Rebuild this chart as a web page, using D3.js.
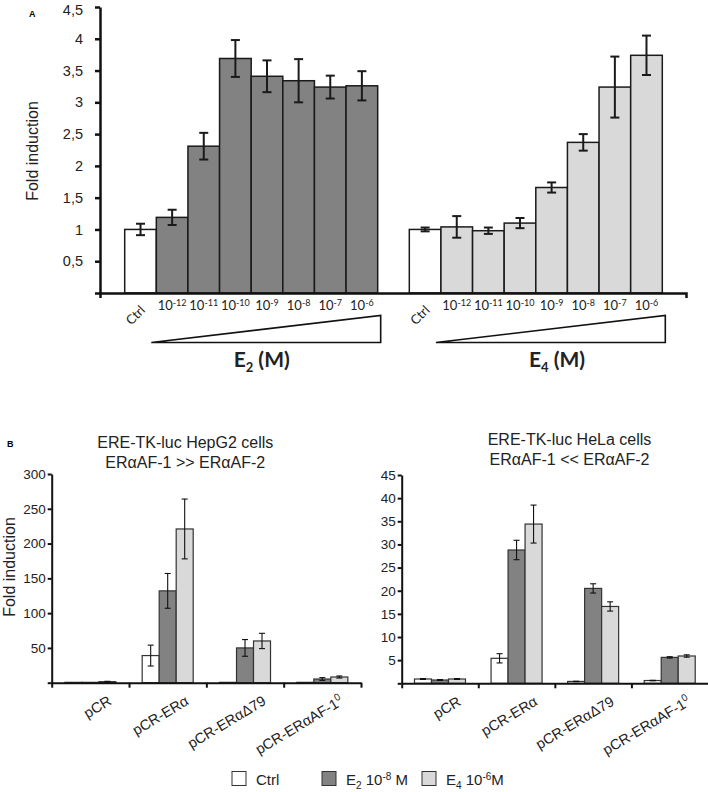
<!DOCTYPE html>
<html><head><meta charset="utf-8">
<script src="https://cdn.jsdelivr.net/npm/d3@7"></script>
<style>body{margin:0;background:#fff} svg{display:block}</style>
</head><body>
<svg id="chart" width="708" height="792"></svg>
<script>
// ---------- Panel A data ----------
const aExponents = ["-12","-11","-10","-9","-8","-7","-6"];
const aE2Means  = [1.00, 1.19, 2.31, 3.69, 3.41, 3.34, 3.24, 3.26];
const aE2Errors = [0.09, 0.12, 0.21, 0.29, 0.25, 0.34, 0.18, 0.23];
const aE4Means  = [1.00, 1.04, 0.98, 1.10, 1.66, 2.37, 3.24, 3.74];
const aE4Errors = [0.03, 0.17, 0.05, 0.08, 0.08, 0.13, 0.48, 0.31];
const aYTicks = [0, 0.5, 1, 1.5, 2, 2.5, 3, 3.5, 4, 4.5];

// ---------- Panel B data ----------
const bCategories = ["pCR", "pCR-ERα", "pCR-ERαΔ79", "pCR-ERαAF-1"];
const bCategorySup = ["", "", "", "0"];
const bSeries = ["ctrl", "e2", "e4"];
const hepCtrl = [0.5, 39, 0.5, 0.5];   const hepCtrlErr = [0, 15, 0, 0];
const hepE2   = [0.5, 132, 50, 5.3];   const hepE2Err   = [0, 25, 12, 2];
const hepE4   = [1.5, 221, 60, 8.2];   const hepE4Err   = [0.5, 43, 11, 1.5];
const helaCtrl = [0.93, 5.4, 0.4, 0.6]; const helaCtrlErr = [0.1, 1.0, 0.05, 0.05];
const helaE2   = [0.71, 28.8, 20.5, 5.6]; const helaE2Err = [0.1, 2.1, 1.0, 0.15];
const helaE4   = [0.93, 34.4, 16.6, 5.9]; const helaE4Err = [0.1, 4.1, 1.0, 0.25];
const hepTicks = [0, 50, 100, 150, 200, 250, 300];
const helaTicks = [0, 5, 10, 15, 20, 25, 30, 35, 40, 45];

const colors = {ctrl: "#ffffff", e2: "#828282", e4: "#d9d9d9"};
const ARIAL = "'Liberation Sans', Arial, sans-serif";
const CAL = "Lato, 'Open Sans', sans-serif";

const svg = d3.select("#chart");
const commaFmt = d3.formatLocale({decimal: ",", thousands: ".", grouping: [3], currency: ["", ""]}).format("~g");

// ================= PANEL A =================
const gA = svg.append("g");
const yA = d3.scaleLinear().domain([0, 4.5]).range([293, 7]);
const slots = [];
aE2Means.forEach((d, i) => slots.push("e2_" + i));
slots.push("gap");
aE4Means.forEach((d, i) => slots.push("e4_" + i));
const xA = d3.scaleBand().domain(slots).range([124.7, 662.3]).padding(0);

const aData = [];
aE2Means.forEach((v, i) => aData.push({key: "e2_" + i, v, e: aE2Errors[i], fill: i === 0 ? colors.ctrl : colors.e2}));
aE4Means.forEach((v, i) => aData.push({key: "e4_" + i, v, e: aE4Errors[i], fill: i === 0 ? colors.ctrl : colors.e4}));

gA.selectAll("rect.bar").data(aData).join("rect")
  .attr("x", d => xA(d.key)).attr("width", xA.bandwidth())
  .attr("y", d => yA(d.v)).attr("height", d => yA(0) - yA(d.v))
  .attr("fill", d => d.fill).attr("stroke", "#1a1a1a").attr("stroke-width", 1.5);

const errA = gA.selectAll("g.err").data(aData).join("g")
  .attr("transform", d => `translate(${xA(d.key) + xA.bandwidth() / 2},0)`)
  .attr("stroke", "#1a1a1a").attr("stroke-width", 2);
errA.append("line").attr("y1", d => yA(d.v + d.e)).attr("y2", d => yA(d.v - d.e));
errA.append("line").attr("x1", -4.5).attr("x2", 4.5).attr("y1", d => yA(d.v + d.e)).attr("y2", d => yA(d.v + d.e));
errA.append("line").attr("x1", -4.5).attr("x2", 4.5).attr("y1", d => yA(d.v - d.e)).attr("y2", d => yA(d.v - d.e));

// y axis
const yAxisA = gA.append("g").attr("transform", "translate(100,0)")
  .call(d3.axisLeft(yA).tickValues(aYTicks).tickSize(5).tickSizeOuter(0).tickPadding(12)
    .tickFormat(d => d === 0 ? "" : commaFmt(d)));
yAxisA.selectAll("path,line").attr("stroke", "#111").attr("stroke-width", 2.5);
yAxisA.selectAll("text").attr("font-family", ARIAL).attr("font-size", 14.5).attr("fill", "#222")
  .attr("dy", d => d === 4.5 ? "0.52em" : "0.32em");
// x axis line
const xLineA = d3.scaleLinear().domain([0, 1]).range([100, 686]);
const xAxisA = gA.append("g").attr("transform", "translate(0,293)")
  .call(d3.axisBottom(xLineA).tickValues([]).tickSizeOuter(5));
xAxisA.selectAll("path").attr("stroke", "#111").attr("stroke-width", 2.5);

gA.append("text").attr("transform", "translate(37.5,151) rotate(-90)")
  .attr("text-anchor", "middle").attr("font-family", ARIAL).attr("font-size", 16).attr("fill", "#222")
  .text("Fold induction");
gA.append("text").attr("x", 29).attr("y", 16.7).attr("font-family", ARIAL).attr("font-weight", "bold")
  .attr("font-size", 9).text("A");

// x labels
["e2", "e4"].forEach(s => {
  const cx = xA(s + "_0") + xA.bandwidth() / 2;
  gA.append("text").attr("transform", `translate(${cx + 5.5},311) rotate(-45)`)
    .attr("text-anchor", "end").attr("font-family", CAL).attr("font-size", 13).attr("fill", "#222").text("Ctrl");
  aExponents.forEach((ex, i) => {
    const key = s + "_" + (i + 1);
    const t = gA.append("text").attr("x", xA(key) + xA.bandwidth() / 2).attr("y", 310)
      .attr("text-anchor", "middle").attr("font-family", CAL).attr("font-size", 13).attr("fill", "#222");
    t.append("tspan").text("10");
    t.append("tspan").attr("font-size", 9).attr("dy", -4.5).text(ex);
  });
  // triangle
  const x0 = xA(s + "_1") - 5, x1 = xA(s + "_7") + xA.bandwidth() + 3;
  gA.append("path").attr("d", `M${x0},342.5L${x1},342.5L${x1},315.5Z`)
    .attr("fill", "#fff").attr("stroke", "#111").attr("stroke-width", 1.6);
});
[["2", 261.7], ["4", 557]].forEach(([sub, cx]) => {
  const t = gA.append("text").attr("x", cx).attr("y", 366.5).attr("text-anchor", "middle")
    .attr("font-family", CAL).attr("font-weight", "bold").attr("font-size", 21).attr("fill", "#222");
  t.append("tspan").text("E");
  t.append("tspan").attr("font-size", 13).attr("dy", 5).text(sub);
  t.append("tspan").attr("dy", -5).text(" (M)");
});

// ================= PANEL B =================
function panelB(opts) {
  const g = svg.append("g");
  const y = d3.scaleLinear().domain(opts.domain).range([opts.base, opts.top]);
  const x = d3.scaleBand().domain(bCategories).range(opts.xr).padding(0);
  const inner = d3.scaleBand().domain(bSeries).range([0, 51]).padding(0);
  const off = (x.bandwidth() - 51) / 2;
  const rows = [];
  bCategories.forEach((c, i) => {
    bSeries.forEach((s, j) => rows.push({c, s, v: opts.vals[j][i], e: opts.errs[j][i]}));
  });
  g.selectAll("rect").data(rows).join("rect")
    .attr("x", d => x(d.c) + off + inner(d.s)).attr("width", inner.bandwidth())
    .attr("y", d => y(d.v)).attr("height", d => y(0) - y(d.v))
    .attr("fill", d => colors[d.s]).attr("stroke", "#333").attr("stroke-width", 1.2);
  const eg = g.selectAll("g.err").data(rows.filter(d => d.e > 0)).join("g")
    .attr("transform", d => `translate(${x(d.c) + off + inner(d.s) + inner.bandwidth() / 2},0)`)
    .attr("stroke", "#111").attr("stroke-width", 1.1);
  eg.append("line").attr("y1", d => y(d.v + d.e)).attr("y2", d => y(d.v - d.e));
  eg.append("line").attr("x1", -3).attr("x2", 3).attr("y1", d => y(d.v + d.e)).attr("y2", d => y(d.v + d.e));
  eg.append("line").attr("x1", -3).attr("x2", 3).attr("y1", d => y(d.v - d.e)).attr("y2", d => y(d.v - d.e));

  const ya = g.append("g").attr("transform", `translate(${opts.xr[0]},0)`)
    .call(d3.axisLeft(y).tickValues(opts.ticks).tickSize(4).tickSizeOuter(0).tickPadding(2)
      .tickFormat(d => d === 0 ? "" : d));
  ya.selectAll("path,line").attr("stroke", "#111").attr("stroke-width", 2);
  ya.selectAll("text").attr("font-family", ARIAL).attr("font-size", 13.5).attr("fill", "#222");

  const xl = d3.scaleLinear().domain([0, bCategories.length]).range(opts.xr);
  const xa = g.append("g").attr("transform", `translate(0,${opts.base})`)
    .call(d3.axisBottom(xl).tickValues(d3.range(0, bCategories.length + (opts.lastTick ? 1 : 0))).tickSize(5).tickSizeOuter(0).tickFormat(""));
  xa.selectAll("path,line").attr("stroke", "#111").attr("stroke-width", 2);

  bCategories.forEach((c, i) => {
    const t = g.append("text")
      .attr("transform", `translate(${x(c) + x.bandwidth() / 2 + 22},${opts.base + 21}) rotate(-31)`)
      .attr("text-anchor", "end").attr("font-family", ARIAL).attr("font-size", 14.5).attr("fill", "#222");
    t.append("tspan").text(c);
    if (bCategorySup[i]) t.append("tspan").attr("font-size", 10).attr("dy", -6).text(bCategorySup[i]);
  });

  opts.title.forEach((line, i) => {
    g.append("text").attr("x", opts.titleX).attr("y", opts.titleY + i * 20).attr("text-anchor", "middle")
      .attr("font-family", ARIAL).attr("font-size", 16).attr("fill", "#222").text(line);
  });
  return g;
}

const gBL = panelB({
  domain: [0, 300], base: 682.7, top: 474, xr: [51.7, 361], ticks: hepTicks,
  vals: [hepCtrl, hepE2, hepE4], errs: [hepCtrlErr, hepE2Err, hepE4Err],
  title: ["ERE-TK-luc HepG2 cells", "ERαAF-1 >> ERαAF-2"], titleX: 185.3, titleY: 447.5, lastTick: true
});
const gBR = panelB({
  domain: [0, 45], base: 683.3, top: 475, xr: [401.7, 708], ticks: helaTicks,
  vals: [helaCtrl, helaE2, helaE4], errs: [helaCtrlErr, helaE2Err, helaE4Err],
  title: ["ERE-TK-luc HeLa cells", "ERαAF-1 << ERαAF-2"], titleX: 569.5, titleY: 444.5, lastTick: false
});

svg.append("text").attr("transform", "translate(15,567) rotate(-90)")
  .attr("text-anchor", "middle").attr("font-family", ARIAL).attr("font-size", 16).attr("fill", "#222")
  .text("Fold induction");
svg.append("text").attr("x", 7).attr("y", 446.7).attr("font-family", ARIAL).attr("font-weight", "bold")
  .attr("font-size", 9).text("B");

// legend
const legendItems = [
  {s: "ctrl", x: 232, parts: [["Ctrl", 0, null]]},
  {s: "e2", x: 322, parts: [["E", 0, null], ["2", 4, 10], [" 10", -4, null], ["-8", -5, 10], [" M", 5, null]]},
  {s: "e4", x: 422, parts: [["E", 0, null], ["4", 4, 10], [" 10", -4, null], ["-6", -5, 10], ["M", 5, null]]}
];
const lg = svg.append("g");
legendItems.forEach(it => {
  lg.append("rect").attr("x", it.x).attr("y", 771.5).attr("width", 14).attr("height", 14)
    .attr("fill", colors[it.s]).attr("stroke", "#333").attr("stroke-width", 1);
  const t = lg.append("text").attr("x", it.x + 24).attr("y", 785).attr("font-family", ARIAL)
    .attr("font-size", 15).attr("fill", "#222");
  it.parts.forEach(([txt, dy, fs]) => {
    const sp = t.append("tspan").attr("dy", dy).text(txt);
    if (fs) sp.attr("font-size", fs);
  });
});
</script>
</body></html>
